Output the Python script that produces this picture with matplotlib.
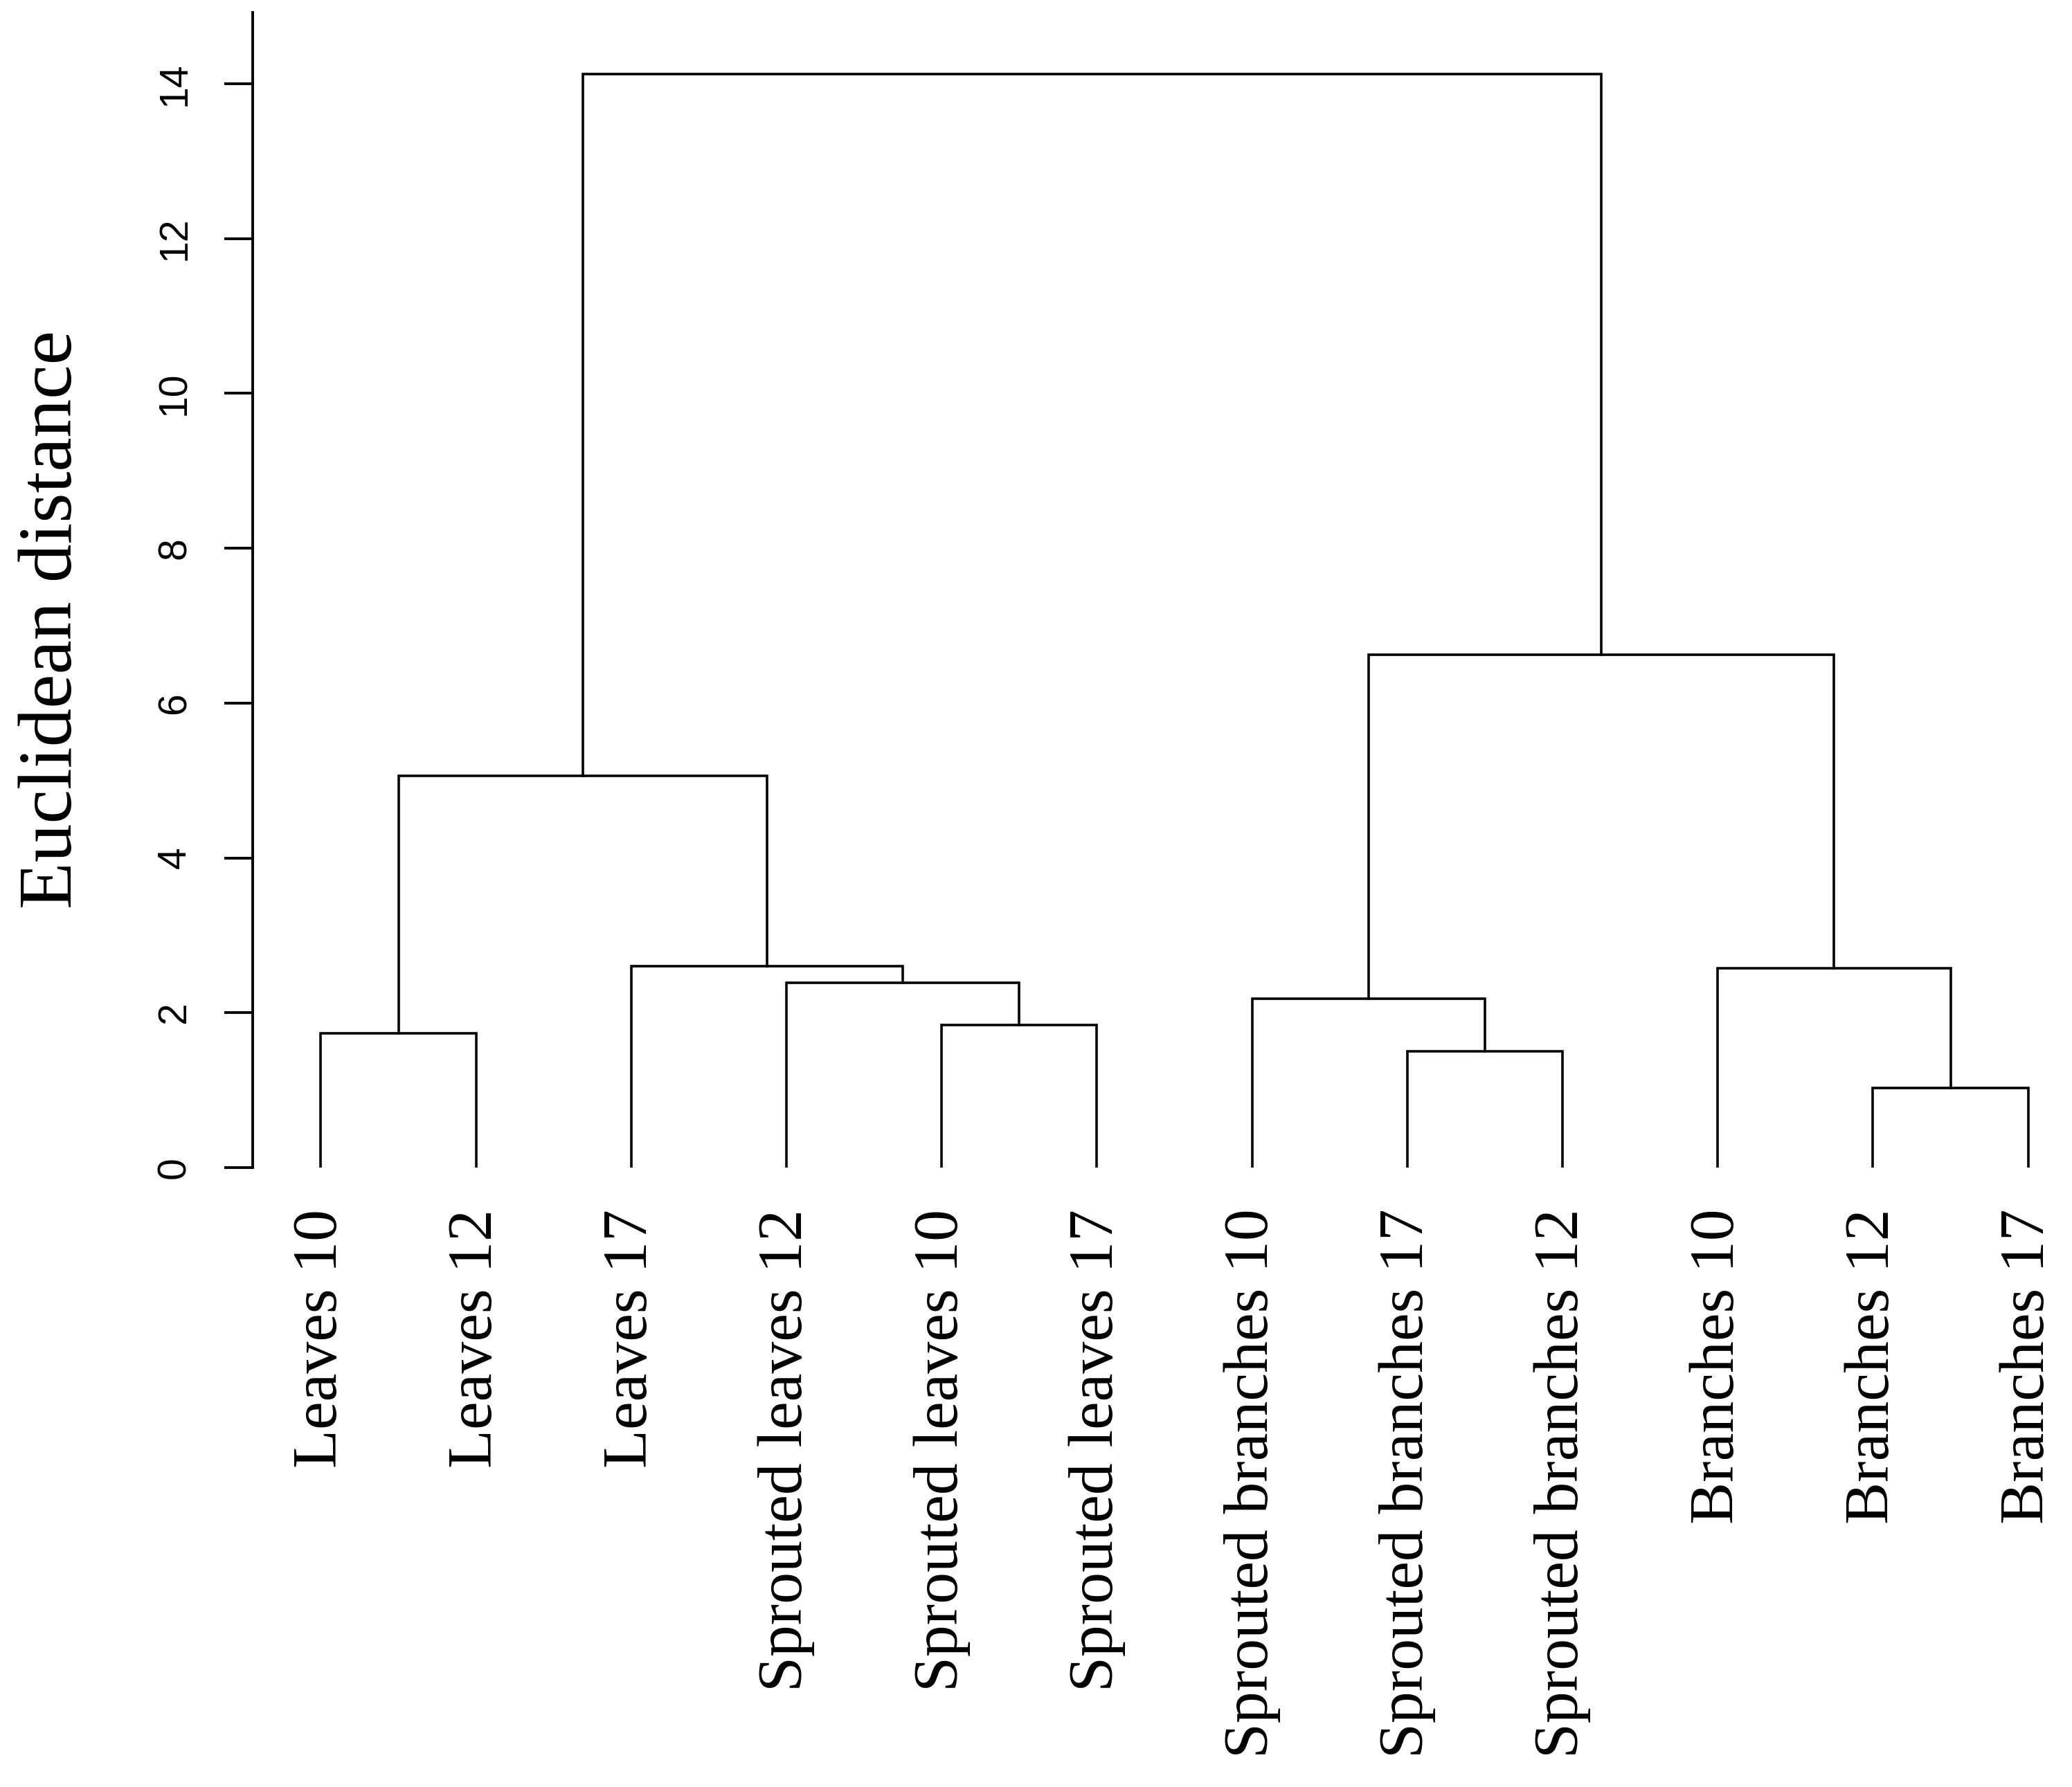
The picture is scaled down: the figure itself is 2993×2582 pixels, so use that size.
import matplotlib
matplotlib.use("Agg")
import matplotlib.pyplot as plt

# ---- data ----
leaf_labels = ["Leaves 10", "Leaves 12", "Leaves 17", "Sprouted leaves 12",
               "Sprouted leaves 10", "Sprouted leaves 17", "Sprouted branches 10",
               "Sprouted branches 17", "Sprouted branches 12", "Branches 10",
               "Branches 12", "Branches 17"]
# hclust-style merges: negative = leaf (1-based, in display order), positive = earlier merge
merge_left = [-11, -8, -1, -5, -7, -4, -10, -3, 3, 5, 9]
merge_right = [-12, -9, -2, -6, 2, 4, 1, 6, 8, 7, 10]
merge_height = [1.03, 1.50, 1.735, 1.845, 2.18, 2.39, 2.575, 2.60, 5.06, 6.62, 14.12]
y_ticks = [0, 2, 4, 6, 8, 10, 12, 14]
y_label = "Euclidean distance"

# ---- figure ----
W, H = 2993, 2582
fig = plt.figure(figsize=(W / 100, H / 100), dpi=100)
fig.patch.set_facecolor("white")

ax = fig.add_axes([365 / W, (H - 1687) / H, (2990 - 365) / W, (1687 - 18) / H])
ax.set_xlim(0.5607, 12.269)
ax.set_ylim(0, 14.92)

lw = 2.6
leaf_x = {i + 1: float(i + 1) for i in range(len(leaf_labels))}
node_x, node_h = {}, {}


def pos(ref):
    if ref < 0:
        return leaf_x[-ref], 0.0
    return node_x[ref], node_h[ref]


for k, (l, r, h) in enumerate(zip(merge_left, merge_right, merge_height), start=1):
    xl, hl = pos(l)
    xr, hr = pos(r)
    ax.plot([xl, xl, xr, xr], [hl, h, h, hr], color="black", lw=lw,
            solid_joinstyle="miter", solid_capstyle="projecting")
    node_x[k] = (xl + xr) / 2
    node_h[k] = h

for s in ["top", "right", "bottom"]:
    ax.spines[s].set_visible(False)
ax.spines["left"].set_linewidth(2.8)

ax.set_yticks(y_ticks)
ax.set_yticklabels([str(t) for t in y_ticks], family="Liberation Sans", fontsize=41)
ax.tick_params(axis="y", length=29.5, width=2.8, pad=32, labelrotation=90)
for t in ax.get_yticklabels():
    t.set_va("center")

ax.set_xticks(list(leaf_x.values()))
ax.set_xticklabels(leaf_labels, rotation=90, family="Liberation Serif", fontsize=66,
                   va="top", ha="center")
ax.tick_params(axis="x", length=0, pad=43)

fig.text(26 / W, 1 - 895 / H, y_label, rotation=90, ha="left", va="center",
         family="Liberation Serif", fontsize=80)

fig.savefig("out.png", dpi=100, facecolor="white")
